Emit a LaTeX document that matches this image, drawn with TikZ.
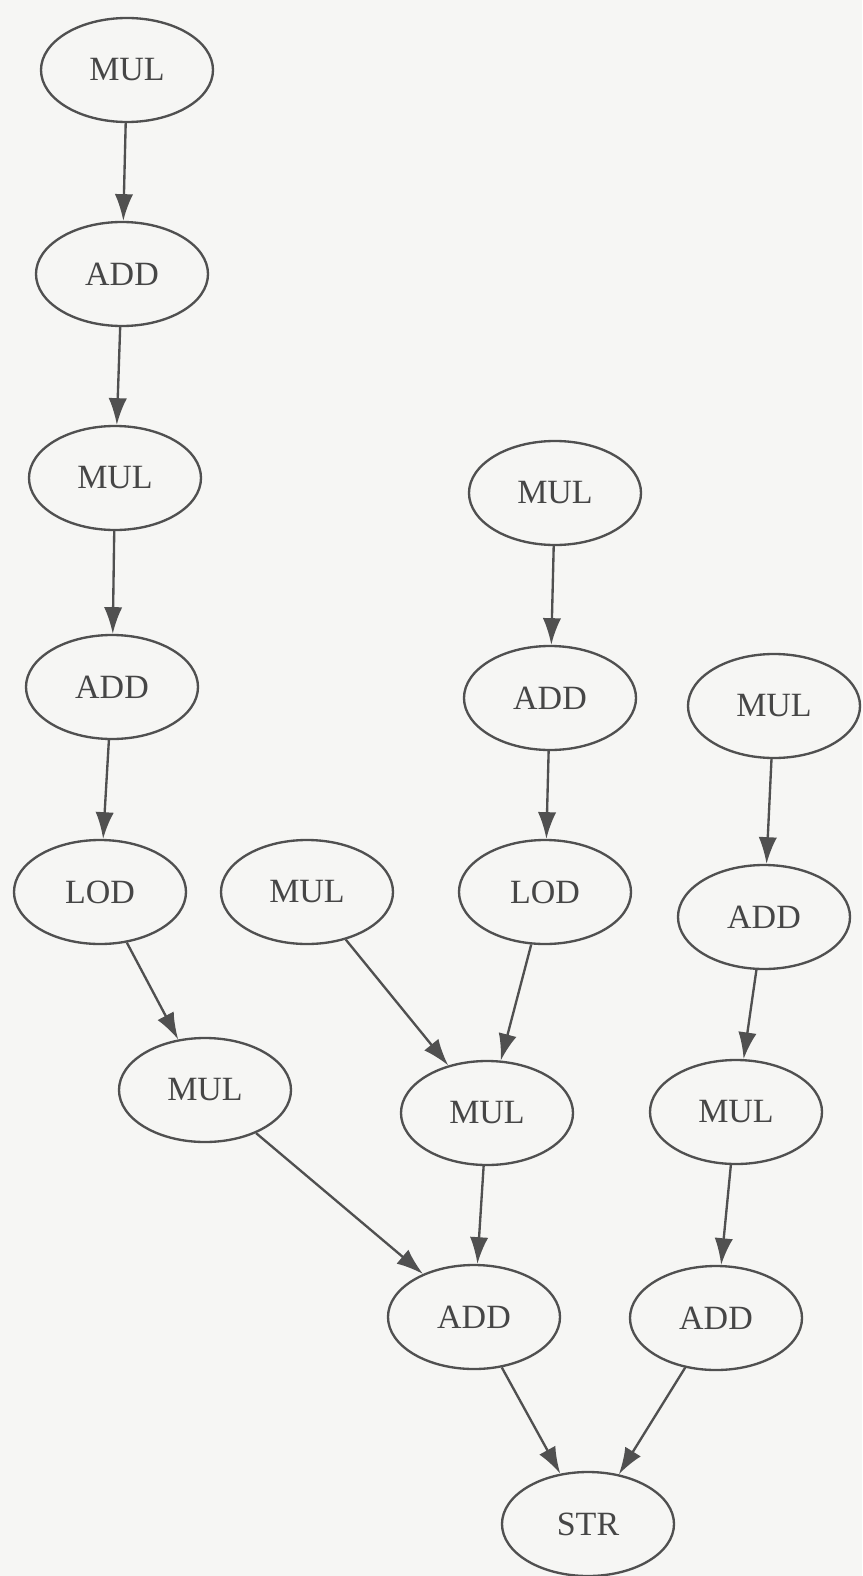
\documentclass[tikz,border=0pt]{standalone}
\usepackage{fontspec}
\setmainfont{Liberation Serif}
\usepackage{tikz}
\usetikzlibrary{arrows.meta,positioning,shapes.geometric}
\definecolor{dagline}{RGB}{80,80,80}
\definecolor{dagtext}{RGB}{70,70,70}
\definecolor{dagpaper}{RGB}{246,246,244}

\begin{document}
\begin{tikzpicture}[x=0.03cm,y=-0.03cm,>={Latex[length=0.8cm,width=0.55cm]},
  every node/.style={font=\fontsize{29}{34}\selectfont,text=dagtext},
  op/.style={draw=dagline,ellipse,line width=2pt,minimum width=5.16cm,minimum height=3.12cm,inner sep=0pt},
  dep/.style={->,draw=dagline,line width=2pt}]
\fill[dagpaper] (0,0) rectangle (862,1576);
\useasboundingbox (0,0) rectangle (862,1576);
% left chain
\node[op] (mulA) at (127,70) {MUL};
\node[op] (addA) at (122,274) {ADD};
\node[op] (mulB) at (115,478) {MUL};
\node[op] (addB) at (112,687) {ADD};
\node[op] (lodA) at (100,892) {LOD};
\node[op] (mulF) at (205,1090) {MUL};
% middle
\node[op] (mulC) at (307,892) {MUL};
\node[op] (mulD) at (555,493) {MUL};
\node[op] (addC) at (550,698) {ADD};
\node[op] (lodB) at (545,892) {LOD};
\node[op] (mulG) at (487,1113) {MUL};
% right chain
\node[op] (mulE) at (774,706) {MUL};
\node[op] (addD) at (764,917) {ADD};
\node[op] (mulH) at (736,1112) {MUL};
% bottom
\node[op] (addE) at (474,1317) {ADD};
\node[op] (addF) at (716,1318) {ADD};
\node[op] (str) at (588,1524) {STR};
\draw[dep] (mulA) -- (addA);
\draw[dep] (addA) -- (mulB);
\draw[dep] (mulB) -- (addB);
\draw[dep] (addB) -- (lodA);
\draw[dep] (lodA) -- (mulF);
\draw[dep] (mulD) -- (addC);
\draw[dep] (addC) -- (lodB);
\draw[dep] (mulC) -- (mulG);
\draw[dep] (lodB) -- (mulG);
\draw[dep] (mulE) -- (addD);
\draw[dep] (addD) -- (mulH);
\draw[dep] (mulF) -- (addE);
\draw[dep] (mulG) -- (addE);
\draw[dep] (mulH) -- (addF);
\draw[dep] (addE) -- (str);
\draw[dep] (addF) -- (str);
\end{tikzpicture}
\end{document}
